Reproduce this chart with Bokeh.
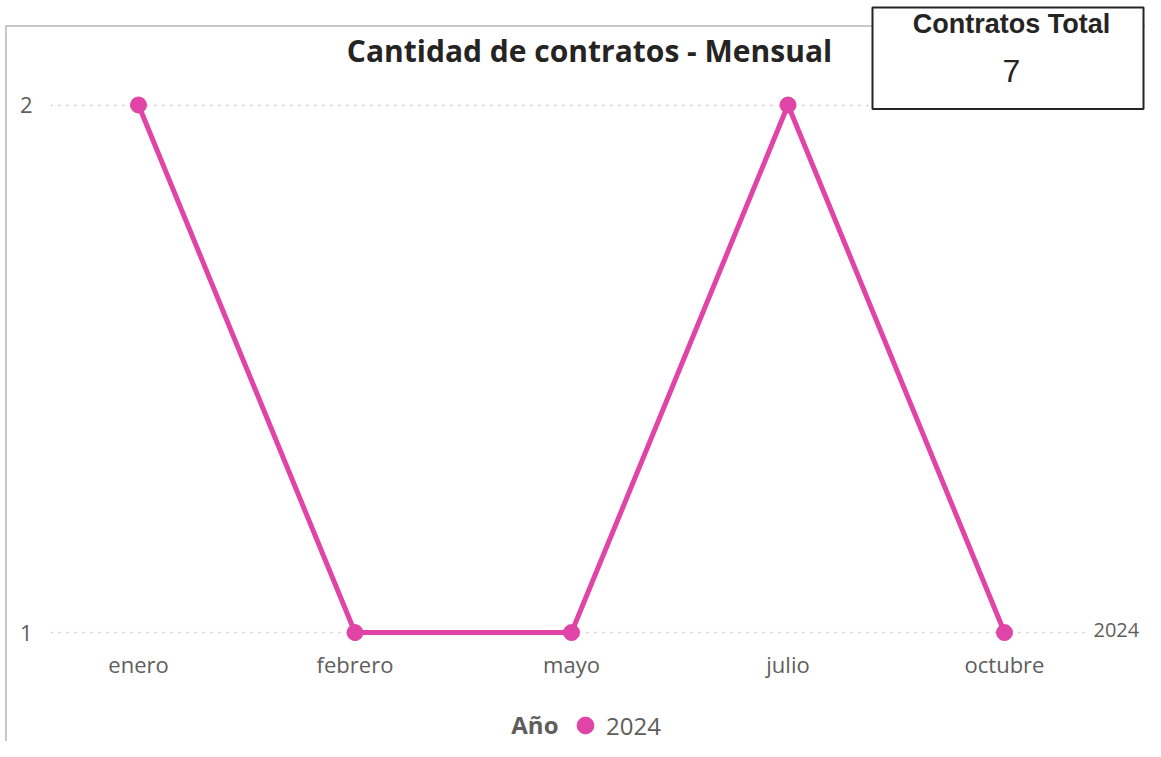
from bokeh.plotting import figure
from bokeh.layouts import column
from bokeh.models import (Range1d, FixedTicker, Label, BoxAnnotation, Legend, LegendItem)
from bokeh.embed import file_html
from bokeh.resources import INLINE

# ---- data ----
months = ["enero", "febrero", "mayo", "julio", "octubre"]
contratos = [2, 1, 1, 2, 1]
series_name = "2024"
legend_title = "Año"
chart_title = "Cantidad de contratos - Mensual"
card_title = "Contratos Total"
card_value = str(sum(contratos))
y_ticks = [1, 2]

PINK = "#E044A7"
GRAY_TXT = "#605E5C"
DARK = "#252423"
BORDER = "#C8C8C8"
FONT = "Open Sans"

W = 1145
H1, H2 = 681, 60          # main chart / legend strip
FL, FR, FT, FB = 50, W, 0, 650
fw, fh = FR - FL, FB - FT
x0 = -(138 - FL) / 216.5
x1 = x0 + fw / 216.5
y1 = 2 + (105 - FT) / 530
y0 = y1 - fh / 530

def px2x(px):
    return x0 + (px - FL) / fw * (x1 - x0)

def px2y(py):
    return y1 - (py - FT) / fh * (y1 - y0)

p = figure(width=W, height=H1, output_backend="svg", toolbar_location=None, title=None,
           x_range=Range1d(x0, x1), y_range=Range1d(y0, y1),
           min_border_left=FL, min_border_right=W - FR,
           min_border_top=FT, min_border_bottom=H1 - FB)
p.outline_line_color = None
p.background_fill_color = None
p.border_fill_color = None

xs = list(range(len(months)))
p.line(xs, contratos, line_width=5, color=PINK)
p.scatter(xs, contratos, size=16, color=PINK)

# axes
p.xaxis.ticker = FixedTicker(ticks=xs)
p.xaxis.major_label_overrides = {i: m for i, m in enumerate(months)}
p.yaxis.ticker = FixedTicker(ticks=y_ticks)
for ax in (p.xaxis, p.yaxis):
    ax.axis_line_color = None
    ax.major_tick_line_color = None
    ax.minor_tick_line_color = None
    ax.major_tick_out = 0
    ax.major_tick_in = 0
    ax.minor_tick_out = 0
    ax.major_label_text_color = GRAY_TXT
    ax.major_label_text_font = FONT
    ax.major_label_text_font_size = "22px"
p.xaxis.major_label_standoff = 1
p.yaxis.major_label_standoff = 18
p.xgrid.grid_line_color = None
p.ygrid.grid_line_color = BORDER
p.ygrid.grid_line_dash = "2 6"
p.ygrid.grid_line_width = 1.5

# title
p.add_layout(Label(x=px2x(589), y=px2y(50), text=chart_title, text_align="center",
                   text_baseline="middle", text_font=FONT, text_font_style="bold",
                   text_font_size="30px", text_color=DARK))

# end-of-line series label
p.add_layout(Label(x=xs[-1], y=contratos[-1], x_offset=84, y_offset=3, text=series_name,
                   text_align="left", text_baseline="middle", text_font=FONT,
                   text_font_size="20px", text_color=GRAY_TXT,
                   background_fill_color="white", background_fill_alpha=1, padding=5))

# KPI card
p.add_layout(BoxAnnotation(left=px2x(872), right=px2x(1143), top=px2y(7), bottom=px2y(109),
                           fill_color="white", fill_alpha=1, line_color="#252525",
                           line_alpha=1, line_width=2))
p.add_layout(Label(x=px2x(1011), y=px2y(24), text=card_title, text_align="center",
                   text_baseline="middle", text_font="Liberation Sans", text_font_style="bold",
                   text_font_size="27px", text_color=DARK))
p.add_layout(Label(x=px2x(1011), y=px2y(71), text=card_value, text_align="center",
                   text_baseline="middle", text_font="Liberation Sans",
                   text_font_size="32px", text_color=DARK))

# ---- legend strip (frame aligned with the chart frame; data units = pixels) ----
q = figure(width=W, height=H2, output_backend="svg", toolbar_location=None, title=None,
           x_range=Range1d(FL, W), y_range=Range1d(0, H2),
           x_axis_location=None, y_axis_location=None,
           min_border_left=FL, min_border_right=0, min_border_top=0, min_border_bottom=0)
q.outline_line_color = None
q.background_fill_color = None
q.border_fill_color = None
q.xgrid.visible = False
q.ygrid.visible = False
# legend key: the same series, which falls outside this strip's visible range
key = q.scatter(xs, contratos, size=16, color=PINK)

def sy(py):
    return (H1 + H2) - py

q.add_layout(Label(x=558, y=sy(724), text=legend_title, text_align="right",
                   text_baseline="middle", text_font=FONT, text_font_style="bold",
                   text_font_size="24px", text_color=GRAY_TXT))
legend = Legend(items=[LegendItem(label=series_name, renderers=[key])],
                orientation="horizontal", location=(564 - FL, -5),
                border_line_color=None, background_fill_alpha=0,
                padding=0, margin=0, glyph_width=42, glyph_height=42, label_standoff=0,
                label_text_font=FONT, label_text_font_size="24px",
                label_text_color=GRAY_TXT)
q.add_layout(legend, "center")

# report-container border (left and top edges) painted behind both canvases
container_css = {
    "background-image": f"linear-gradient({BORDER}, {BORDER}), linear-gradient({BORDER}, {BORDER})",
    "background-size": f"2px {H1 + H2 - 25}px, {W}px 2px",
    "background-position": "5px 25px, 5px 25px",
    "background-repeat": "no-repeat",
}
layout = column(p, q, spacing=0, styles=container_css)
open("out.html", "w").write(file_html(layout, INLINE))
